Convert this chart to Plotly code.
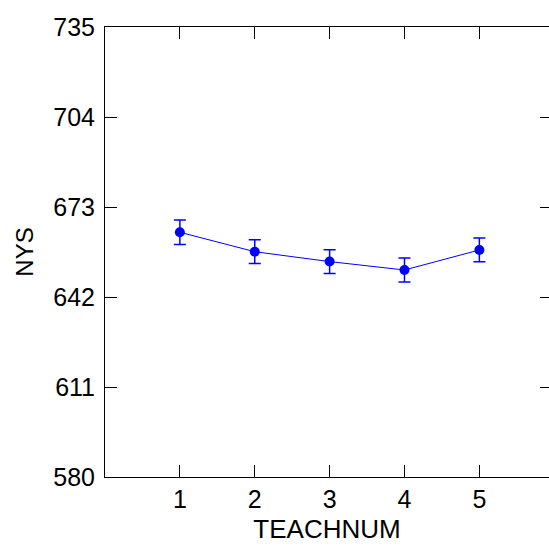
import plotly.graph_objects as go

teachnum = [1, 2, 3, 4, 5]
nys_mean = [664.3, 657.6, 654.2, 651.3, 658.2]
nys_err = [4.2, 4.1, 4.1, 4.1, 4.1]
y_ticks = [580, 611, 642, 673, 704, 735]
x_ticks = [1, 2, 3, 4, 5]

FONT = "Liberation Sans, Arial, sans-serif"

fig = go.Figure()
fig.add_trace(go.Scatter(
    x=teachnum, y=nys_mean, mode="lines+markers",
    line=dict(color="#0000FF", width=1),
    marker=dict(color="#0000FF", size=10),
    error_y=dict(type="data", array=nys_err, color="#0000FF", thickness=1.5, width=6),
    showlegend=False,
))
# invisible trace to carry the right-hand tick marks
fig.add_trace(go.Scatter(
    x=teachnum, y=nys_mean, yaxis="y2", mode="markers",
    marker=dict(opacity=0), hoverinfo="skip", showlegend=False,
))

fig.update_layout(
    width=549, height=547,
    margin=dict(l=105, r=0, t=27, b=70),
    paper_bgcolor="white", plot_bgcolor="white",
    font=dict(family=FONT, size=25, color="black"),
    xaxis=dict(
        range=[0, 5.93], tickvals=x_ticks, ticks="inside", ticklen=12,
        tickcolor="black", showline=True, linecolor="black", linewidth=1,
        mirror="ticks", showgrid=False, zeroline=False,
        title=dict(text="TEACHNUM", standoff=7, font=dict(size=26)),
        tickfont=dict(size=25),
    ),
    yaxis=dict(
        range=[580, 735], tickvals=y_ticks, ticks="inside", ticklen=12,
        tickcolor="black", showline=True, linecolor="black", linewidth=1,
        showgrid=False, zeroline=False, ticklabelstandoff=4,
        title=dict(text="NYS", standoff=12, font=dict(size=24)),
        tickfont=dict(size=25),
    ),
    yaxis2=dict(
        range=[580, 735], tickvals=y_ticks, ticks="inside", ticklen=9,
        tickcolor="black", showline=False, showgrid=False, zeroline=False,
        showticklabels=False, overlaying="y", side="right",
    ),
)

fig.write_html("out.html")
